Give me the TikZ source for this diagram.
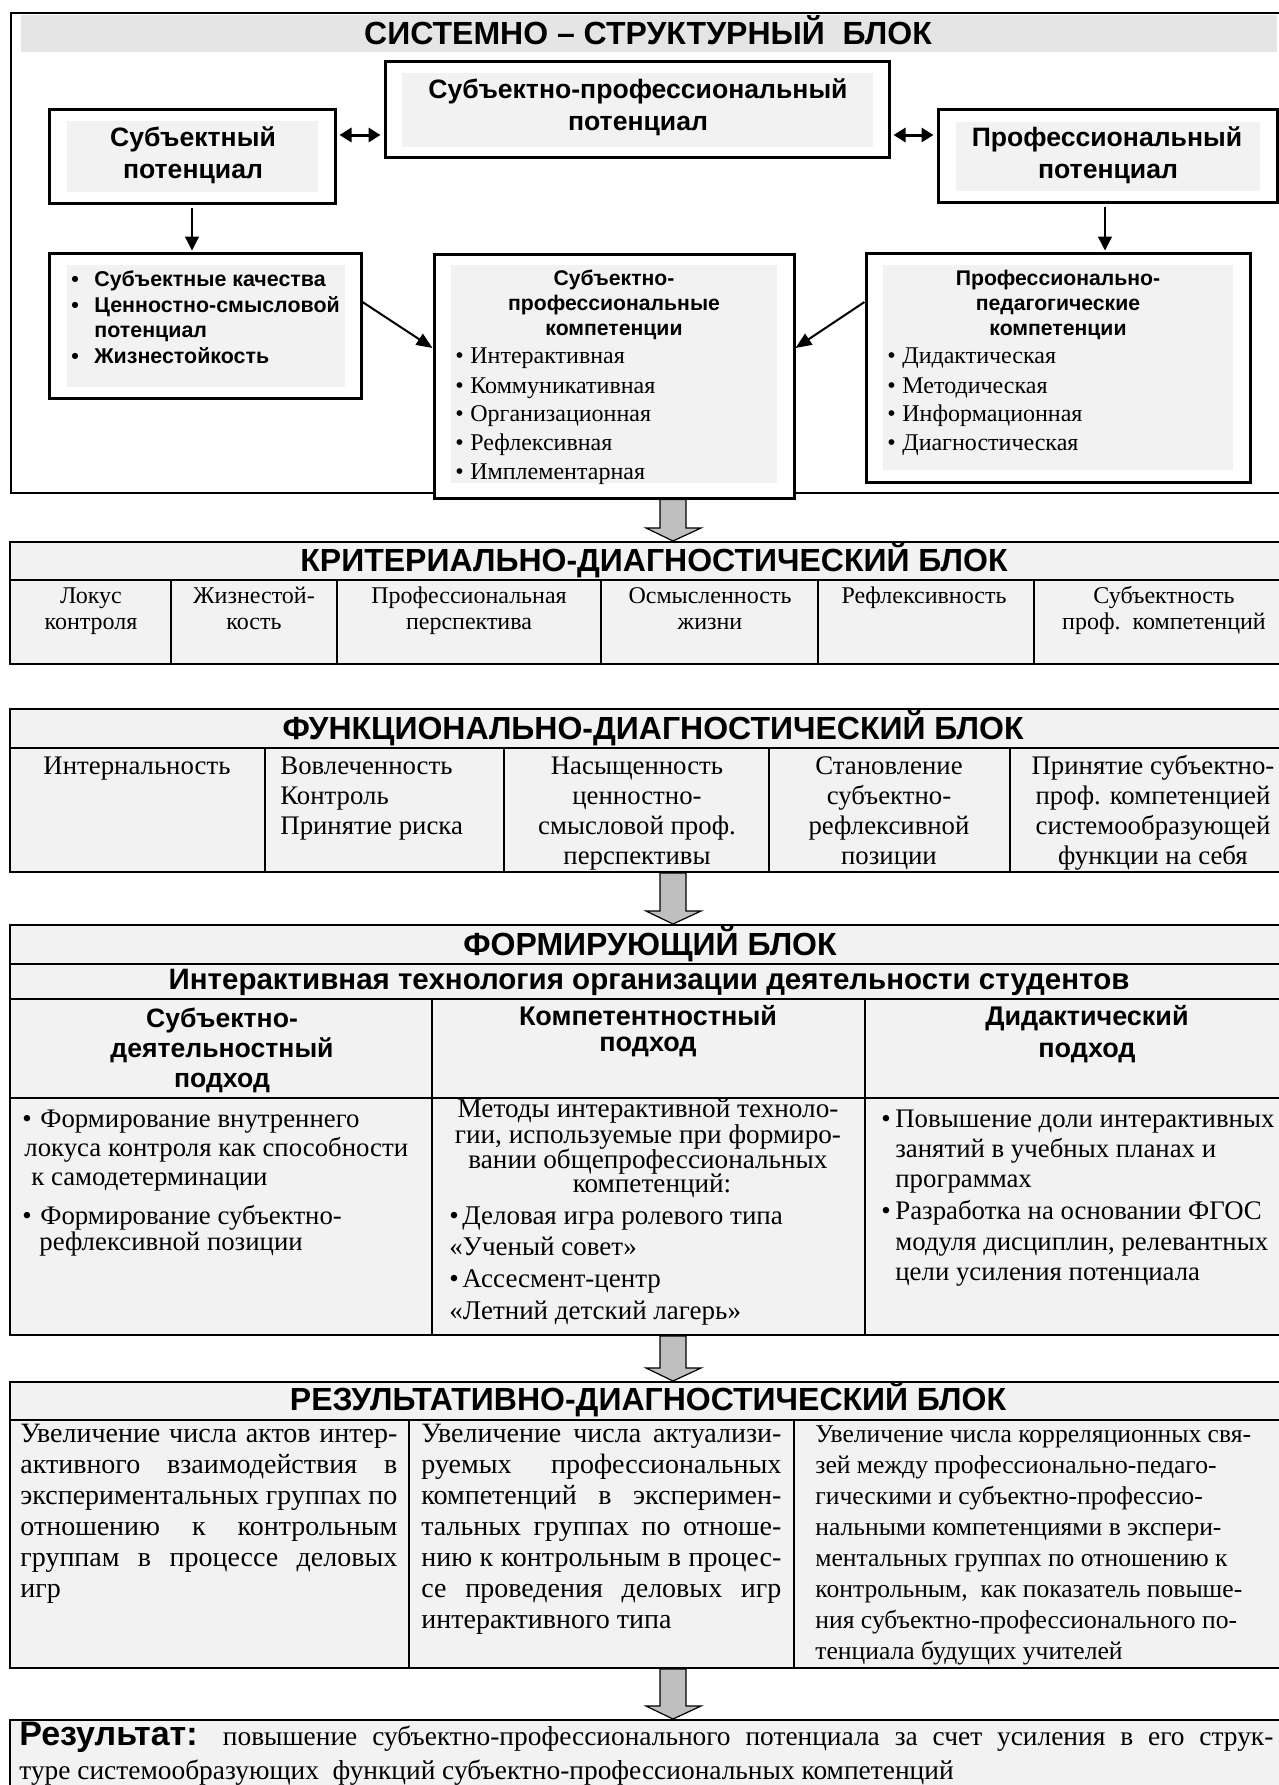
\documentclass[tikz,border=0pt]{standalone}
\usepackage{fontspec}
\setmainfont{Liberation Serif}
\newfontfamily\hsans{Liberation Sans}
\usetikzlibrary{arrows.meta,fit,calc}
\newcommand\blockarrow[2]{%
  \draw[barrow] let \p1=(#1), \p2=(#2) in
    (\x2-6.5pt,\y1) -- (\x2-6.5pt,\y2+6.5pt) -- (\x2-13.5pt,\y2+6.5pt) -- (\x2,\y2)
    -- (\x2+14pt,\y2+6.5pt) -- (\x2+6.5pt,\y2+6.5pt) -- (\x2+6.5pt,\y1) -- cycle;}
\newcommand\bul[1]{\makebox[#1][l]{•}}
\begin{document}
\begin{tikzpicture}[x=0.5pt,y=-0.5pt,
  sansb/.style={font=\hsans\bfseries\fontsize{#1}{#1}\selectfont, inner sep=0pt},
  serif/.style={font=\fontsize{#1}{#1}\selectfont, inner sep=0pt},
  frame/.style={draw, line width=1pt, inner sep=0pt},
  pbox/.style={draw, line width=1.5pt, inner sep=0pt, fill=white},
  cellfill/.style={fill=black!5},
  grid/.style={line width=1pt},
  dbl/.style={line width=1.5pt, {Triangle[length=6pt,width=7pt]}-{Triangle[length=6pt,width=7pt]}, shorten <=1.5pt, shorten >=1.5pt},
  thin/.style={line width=0.7pt, -{Triangle[length=7pt,width=7pt]}, shorten <=1.5pt, shorten >=0.5pt},
  diag/.style={line width=1pt, -{Triangle[length=8pt,width=6.5pt]}},
  barrow/.style={draw=black, fill=black!25, line width=0.6pt}
]
\useasboundingbox (0,0) rectangle (1279,1785);
\fill[white] (0,0) rectangle (1279,1785);
\coordinate (ax) at (673,0);

% ===== Block 1 =====
\node[frame, fit={(11,13) (1290,493)}] (sys) {};
\fill[black!10] (21,15) rectangle (1277,52);
\node[sansb=16, anchor=mid] (t1) at (648,39.5) {СИСТЕМНО – СТРУКТУРНЫЙ\ \ БЛОК};

\node[pbox, fit={(385,61) (889,157)}] (sp) {};
\fill[black!5] (402,73) rectangle (873,147);
\node[sansb=13.3, anchor=mid] (sp1) at (638,94) {Субъектно-профессиональный};
\node[sansb=13.3, anchor=mid] (sp2) at (638,126) {потенциал};

\node[pbox, fit={(49,109) (335,203)}] (subj) {};
\fill[black!5] (67,121) rectangle (318,192);
\node[sansb=13.3, anchor=mid] (subj1) at (193,142) {Субъектный};
\node[sansb=13.3, anchor=mid] (subj2) at (193,174) {потенциал};

\node[pbox, fit={(938,109) (1277,202)}] (prof) {};
\fill[black!5] (956,122) rectangle (1260,191);
\node[sansb=13.3, anchor=mid] (prof1) at (1107,142) {Профессиональный};
\node[sansb=13.3, anchor=mid] (prof2) at (1108,174) {потенциал};

\draw[dbl] (subj.east |- 0,135) -- (sp.west |- 0,135);
\draw[dbl] (sp.east |- 0,135) -- (prof.west |- 0,135);

% left lower box
\node[pbox, fit={(49,253) (361,398)}] (lb) {};
\fill[black!5] (67,265) rectangle (345,387);
\node[sansb=10.7, anchor=mid west] (lb1) at (71,282) {\bul{11.5pt}Субъектные качества};
\node[sansb=10.7, anchor=mid west] (lb2) at (71,308) {\bul{11.5pt}Ценностно-смысловой};
\node[sansb=10.7, anchor=mid west] (lb3) at (94,333) {потенциал};
\node[sansb=10.7, anchor=mid west] (lb4) at (71,359) {\bul{11.5pt}Жизнестойкость};

% right lower box
\node[pbox, fit={(866,253) (1250,482)}] (rb) {};
\fill[black!5] (883,265) rectangle (1233,470);
\node[sansb=10.6, anchor=mid] (rb1) at (1058,281) {Профессионально-};
\node[sansb=10.6, anchor=mid] (rb2) at (1058,306) {педагогические};
\node[sansb=10.6, anchor=mid] (rb3) at (1058,331) {компетенции};
\node[serif=12, anchor=mid west] (rb4) at (887,359) {\bul{7.5pt}Дидактическая};
\node[serif=12, anchor=mid west] (rb5) at (887,389) {\bul{7.5pt}Методическая};
\node[serif=12, anchor=mid west] (rb6) at (887,417) {\bul{7.5pt}Информационная};
\node[serif=12, anchor=mid west] (rb7) at (887,446) {\bul{7.5pt}Диагностическая};

% center lower box
\node[pbox, fit={(434,254) (794,498)}] (cb) {};
\fill[black!5] (451,265) rectangle (777,483);
\node[sansb=10.6, anchor=mid] (cb1) at (614,281) {Субъектно-};
\node[sansb=10.6, anchor=mid] (cb2) at (614,306) {профессиональные};
\node[sansb=10.6, anchor=mid] (cb3) at (614,331) {компетенции};
\node[serif=12, anchor=mid west] (cb4) at (455,359) {\bul{7.5pt}Интерактивная};
\node[serif=12, anchor=mid west] (cb5) at (455,389) {\bul{7.5pt}Коммуникативная};
\node[serif=12, anchor=mid west] (cb6) at (455,417) {\bul{7.5pt}Организационная};
\node[serif=12, anchor=mid west] (cb7) at (455,446) {\bul{7.5pt}Рефлексивная};
\node[serif=12, anchor=mid west] (cb8) at (455,475) {\bul{7.5pt}Имплементарная};

\draw[thin] (subj.south) -- (subj.south |- lb.north);
\draw[thin] (prof.south -| 1105,0) -- (lb.north -| 1105,0 |- rb.north);
\draw[diag] (lb.east |- 0,302) -- (cb.west |- 0,348);
\draw[diag] (rb.west |- 0,302) -- (cb.east |- 0,348);

% ===== Block 2 =====
\node[frame, cellfill, fit={(10,542) (1290,664)}] (crit) {};
\draw[grid] (crit.west |- 0,580) -- (crit.east |- 0,580);
\foreach \xx in {171,337,601,818,1034} \draw[grid] (\xx,580) -- (\xx,664);
\node[sansb=16, anchor=mid] (t2) at (654,567) {КРИТЕРИАЛЬНО-ДИАГНОСТИЧЕСКИЙ БЛОК};
\node[serif=12, anchor=mid] (c1a) at (91,599) {Локус};
\node[serif=12, anchor=mid] (c1b) at (91,625) {контроля};
\node[serif=12, anchor=mid] (c2a) at (254,599) {Жизнестой-};
\node[serif=12, anchor=mid] (c2b) at (254,625) {кость};
\node[serif=12, anchor=mid] (c3a) at (469,599) {Профессиональная};
\node[serif=12, anchor=mid] (c3b) at (469,625) {перспектива};
\node[serif=12, anchor=mid] (c4a) at (710,599) {Осмысленность};
\node[serif=12, anchor=mid] (c4b) at (710,625) {жизни};
\node[serif=12, anchor=mid] (c5a) at (924,599) {Рефлексивность};
\node[serif=12, anchor=mid] (c6a) at (1164,599) {Субъектность};
\node[serif=12, anchor=mid] (c6b) at (1164,625) {проф.\ \ компетенций};

\blockarrow{cb.south -| ax}{crit.north -| ax}

% ===== Block 3 =====
\node[frame, cellfill, fit={(10,709) (1290,872)}] (func) {};
\draw[grid] (func.west |- 0,748) -- (func.east |- 0,748);
\foreach \xx in {265,504,769,1010} \draw[grid] (\xx,748) -- (\xx,872);
\node[sansb=16, anchor=mid] (t3) at (653,735) {ФУНКЦИОНАЛЬНО-ДИАГНОСТИЧЕСКИЙ БЛОК};
\node[serif=13.4, anchor=mid] (f1a) at (137,770) {Интернальность};
\node[serif=13.4, anchor=mid west] (f2a) at (280,770) {Вовлеченность};
\node[serif=13.4, anchor=mid west] (f2b) at (280,800) {Контроль};
\node[serif=13.4, anchor=mid west] (f2c) at (280,830) {Принятие риска};
\node[serif=13.4, anchor=mid] (f3a) at (637,770) {Насыщенность};
\node[serif=13.4, anchor=mid] (f3b) at (637,800) {ценностно-};
\node[serif=13.4, anchor=mid] (f3c) at (637,830) {смысловой проф.};
\node[serif=13.4, anchor=mid] (f3d) at (637,860) {перспективы};
\node[serif=13.4, anchor=mid] (f4a) at (889,770) {Становление};
\node[serif=13.4, anchor=mid] (f4b) at (889,800) {субъектно-};
\node[serif=13.4, anchor=mid] (f4c) at (889,830) {рефлексивной};
\node[serif=13.4, anchor=mid] (f4d) at (889,860) {позиции};
\node[serif=13.4, anchor=mid] (f5a) at (1153,770) {Принятие субъектно-};
\node[serif=13.4, anchor=mid] (f5b) at (1153,800) {проф. компетенцией};
\node[serif=13.4, anchor=mid] (f5c) at (1153,830) {системообразующей};
\node[serif=13.4, anchor=mid] (f5d) at (1153,860) {функции на себя};

% ===== Block 4 =====
\node[frame, cellfill, fit={(10,925) (1290,1335)}] (form) {};
\draw[grid] (form.west |- 0,964) -- (form.east |- 0,964);
\draw[grid] (form.west |- 0,999) -- (form.east |- 0,999);
\draw[grid] (form.west |- 0,1098) -- (form.east |- 0,1098);
\foreach \xx in {432,865} \draw[grid] (\xx,999) -- (\xx,1335);
\node[sansb=16, anchor=mid] (t4) at (650,951) {ФОРМИРУЮЩИЙ БЛОК};
\node[sansb=14.75, anchor=mid] (t4s) at (649,985) {Интерактивная технология организации деятельности студентов};
\node[sansb=13.3, anchor=mid] (h1a) at (222,1023) {Субъектно-};
\node[sansb=13.3, anchor=mid] (h1b) at (222,1053) {деятельностный};
\node[sansb=13.3, anchor=mid] (h1c) at (222,1083) {подход};
\node[sansb=13.5, anchor=mid] (h2a) at (648,1021) {Компетентностный};
\node[sansb=13.5, anchor=mid] (h2b) at (648,1047) {подход};
\node[sansb=13.5, anchor=mid] (h3a) at (1087,1021) {Дидактический};
\node[sansb=13.5, anchor=mid] (h3b) at (1087,1053) {подход};

\node[serif=13.4, anchor=mid west] (b1a) at (22,1123) {\bul{9pt}Формирование внутреннего};
\node[serif=13.4, anchor=mid west] (b1b) at (24,1152) {локуса контроля как способности};
\node[serif=13.4, anchor=mid west] (b1c) at (31,1181) {к самодетерминации};
\node[serif=13.4, anchor=mid west] (b1d) at (22,1220) {\bul{9pt}Формирование субъектно-};
\node[serif=13.4, anchor=mid west] (b1e) at (39,1246) {рефлексивной позиции};

\node[serif=13.6, anchor=mid] (b2a) at (648,1113) {Методы интерактивной техноло-};
\node[serif=13.6, anchor=mid] (b2b) at (648,1139) {гии, используемые при формиро-};
\node[serif=13.6, anchor=mid] (b2c) at (648,1164) {вании общепрофессиональных};
\node[serif=13.6, anchor=mid] (b2d) at (652,1188) {компетенций:};
\node[serif=13.5, anchor=mid west] (b2e) at (449,1220) {\bul{6.5pt}Деловая игра ролевого типа};
\node[serif=13.5, anchor=mid west] (b2f) at (449,1251) {«Ученый совет»};
\node[serif=13.5, anchor=mid west] (b2g) at (449,1283) {\bul{6.5pt}Ассесмент-центр};
\node[serif=13.5, anchor=mid west] (b2h) at (449,1315) {«Летний детский лагерь»};

\node[serif=13.4, anchor=mid west] (b3a) at (881,1123) {\bul{7pt}Повышение доли интерактивных};
\node[serif=13.4, anchor=mid west] (b3b) at (895,1153) {занятий в учебных планах и};
\node[serif=13.4, anchor=mid west] (b3c) at (895,1183) {программах};
\node[serif=13.4, anchor=mid west] (b3d) at (881,1215) {\bul{7pt}Разработка на основании ФГОС};
\node[serif=13.4, anchor=mid west] (b3e) at (895,1246) {модуля дисциплин, релевантных};
\node[serif=13.4, anchor=mid west] (b3f) at (895,1276) {цели усиления потенциала};

\blockarrow{func.south -| ax}{form.north -| ax}

% ===== Block 5 =====
\node[frame, cellfill, fit={(10,1382) (1290,1668)}] (res) {};
\draw[grid] (res.west |- 0,1420) -- (res.east |- 0,1420);
\foreach \xx in {409,794} \draw[grid] (\xx,1420) -- (\xx,1668);
\node[sansb=16, anchor=mid] (t5) at (648,1406) {РЕЗУЛЬТАТИВНО-ДИАГНОСТИЧЕСКИЙ БЛОК};

\node[serif=14, anchor=mid west] (r1a) at (20,1438) {\makebox[188.5pt][s]{Увеличение числа актов интер-}};
\node[serif=14, anchor=mid west] (r1b) at (20,1469) {\makebox[188.5pt][s]{активного взаимодействия в}};
\node[serif=14, anchor=mid west] (r1c) at (20,1500) {\makebox[188.5pt][s]{экспериментальных группах по}};
\node[serif=14, anchor=mid west] (r1d) at (20,1531) {\makebox[188.5pt][s]{отношению к контрольным}};
\node[serif=14, anchor=mid west] (r1e) at (20,1562) {\makebox[188.5pt][s]{группам в процессе деловых}};
\node[serif=14, anchor=mid west] (r1f) at (20,1593) {игр};

\node[serif=14, anchor=mid west] (r2a) at (421,1438) {\makebox[180pt][s]{Увеличение числа актуализи-}};
\node[serif=14, anchor=mid west] (r2b) at (421,1469) {\makebox[180pt][s]{руемых профессиональных}};
\node[serif=14, anchor=mid west] (r2c) at (421,1500) {\makebox[180pt][s]{компетенций в эксперимен-}};
\node[serif=14, anchor=mid west] (r2d) at (421,1531) {\makebox[180pt][s]{тальных группах по отноше-}};
\node[serif=14, anchor=mid west] (r2e) at (421,1562) {\makebox[180pt][s]{нию к контрольным в процес-}};
\node[serif=14, anchor=mid west] (r2f) at (421,1593) {\makebox[180pt][s]{се проведения деловых игр}};
\node[serif=14, anchor=mid west] (r2g) at (421,1624) {интерактивного типа};

\node[serif=12.8, anchor=mid west] (r3a) at (815,1438) {Увеличение числа корреляционных свя-};
\node[serif=12.8, anchor=mid west] (r3b) at (815,1469) {зей между профессионально-педаго-};
\node[serif=12.8, anchor=mid west] (r3c) at (815,1500) {гическими и субъектно-профессио-};
\node[serif=12.8, anchor=mid west] (r3d) at (815,1531) {нальными компетенциями в экспери-};
\node[serif=12.8, anchor=mid west] (r3e) at (815,1562) {ментальных группах по отношению к};
\node[serif=12.8, anchor=mid west] (r3f) at (815,1593) {контрольным,\ \ как показатель повыше-};
\node[serif=12.8, anchor=mid west] (r3g) at (815,1624) {ния субъектно-профессионального по-};
\node[serif=12.8, anchor=mid west] (r3h) at (815,1655) {тенциала будущих учителей};

\blockarrow{form.south -| ax}{res.north -| ax}

% ===== Result =====
\node[frame, cellfill, fit={(10,1720) (1290,1800)}] (rs) {};
\node[serif=13.7, anchor=mid west] (rs1) at (19,1741) {\makebox[627pt][s]{{\hsans\bfseries\fontsize{17}{17}\selectfont Результат:} повышение субъектно-профессионального потенциала за счет усиления в его струк-}};
\node[serif=13.7, anchor=mid west] (rs2) at (19,1775) {туре системообразующих\ \ функций субъектно-профессиональных компетенций};

\blockarrow{res.south -| ax}{rs.north -| ax}
\end{tikzpicture}
\end{document}
